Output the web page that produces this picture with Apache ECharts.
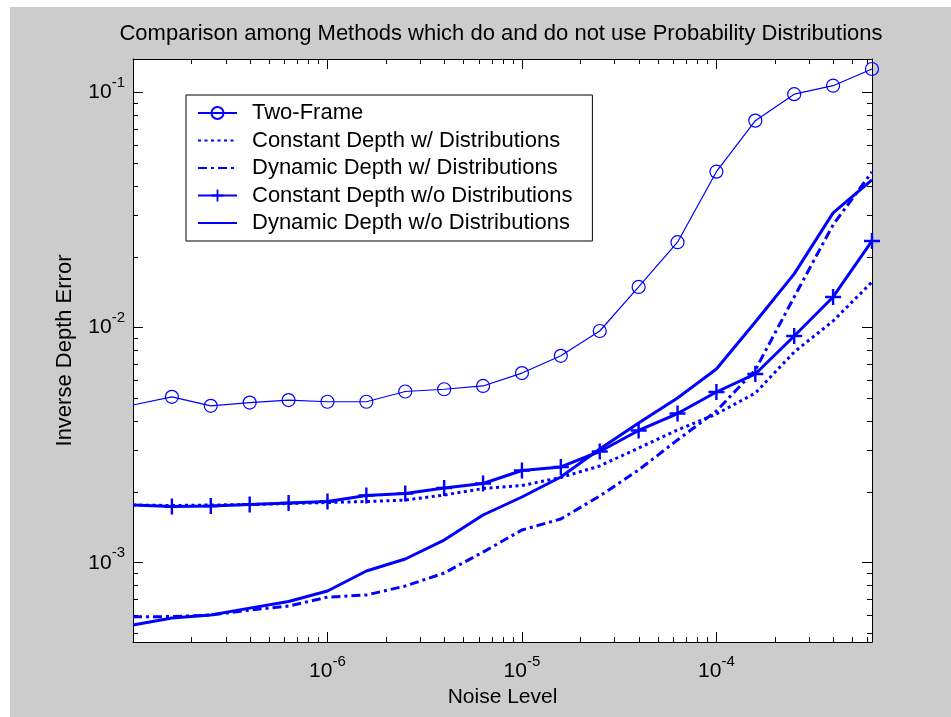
<!DOCTYPE html>
<html>
<head>
<meta charset="utf-8">
<title>Comparison among Methods</title>
<script src="https://cdn.jsdelivr.net/npm/echarts@6/dist/echarts.min.js"></script>
<style>
  html, body { margin: 0; padding: 0; background: #fff; }
  #chart { width: 951px; height: 717px; }
</style>
</head>
<body>
<div id="chart"></div>
<script>
// noise levels (0.2 decade steps)
var noiseLevel = [1e-7, 1.585e-7, 2.512e-7, 3.981e-7, 6.310e-7,
                  1e-6, 1.585e-6, 2.512e-6, 3.981e-6, 6.310e-6,
                  1e-5, 1.585e-5, 2.512e-5, 3.981e-5, 6.310e-5,
                  1e-4, 1.585e-4, 2.512e-4, 3.981e-4, 6.310e-4];

// inverse depth error per method
var twoFrame = [4.69e-3, 5.08e-3, 4.65e-3, 4.80e-3, 4.92e-3, 4.84e-3, 4.84e-3, 5.35e-3, 5.47e-3, 5.65e-3,
                6.41e-3, 7.59e-3, 9.68e-3, 1.49e-2, 2.31e-2, 4.61e-2, 7.60e-2, 9.85e-2, 1.07e-1, 1.26e-1];
var constDepthDist = [1.760e-3, 1.751e-3, 1.760e-3, 1.769e-3, 1.786e-3, 1.804e-3, 1.821e-3, 1.848e-3, 1.941e-3, 2.068e-3,
                      2.130e-3, 2.305e-3, 2.580e-3, 3.077e-3, 3.670e-3, 4.292e-3, 5.27e-3, 7.88e-3, 1.068e-2, 1.565e-2];
var dynDepthDist = [5.89e-4, 5.90e-4, 5.99e-4, 6.29e-4, 6.54e-4, 7.14e-4, 7.29e-4, 7.96e-4, 9.04e-4, 1.110e-3,
                    1.378e-3, 1.535e-3, 1.922e-3, 2.48e-3, 3.33e-3, 4.42e-3, 6.61e-3, 1.351e-2, 2.74e-2, 4.60e-2];
var constDepthNoDist = [1.760e-3, 1.734e-3, 1.743e-3, 1.769e-3, 1.795e-3, 1.821e-3, 1.932e-3, 1.970e-3, 2.079e-3, 2.173e-3,
                        2.469e-3, 2.555e-3, 2.973e-3, 3.653e-3, 4.313e-3, 5.325e-3, 6.353e-3, 9.22e-3, 1.351e-2, 2.338e-2];
var dynDepthNoDist = [5.43e-4, 5.82e-4, 5.99e-4, 6.41e-4, 6.84e-4, 7.58e-4, 9.22e-4, 1.037e-3, 1.249e-3, 1.596e-3,
                      1.904e-3, 2.316e-3, 3.047e-3, 3.93e-3, 5.02e-3, 6.67e-3, 1.057e-2, 1.693e-2, 3.08e-2, 4.25e-2];

var seriesNames = ['Two-Frame', 'Constant Depth w/ Distributions', 'Dynamic Depth w/ Distributions',
                   'Constant Depth w/o Distributions', 'Dynamic Depth w/o Distributions'];

// axis ranges and ticks
var xRange = [1e-7, 6.31e-4];
var yRange = [4.6e-4, 0.139];
var xMajorTicks = [1e-6, 1e-5, 1e-4];
var xMinorTicks = [2e-7, 3e-7, 4e-7, 5e-7, 6e-7, 7e-7, 8e-7, 9e-7,
                   2e-6, 3e-6, 4e-6, 5e-6, 6e-6, 7e-6, 8e-6, 9e-6,
                   2e-5, 3e-5, 4e-5, 5e-5, 6e-5, 7e-5, 8e-5, 9e-5,
                   2e-4, 3e-4, 4e-4, 5e-4, 6e-4];
var yMajorTicks = [1e-3, 1e-2, 1e-1];
var yMinorTicks = [5e-4, 6e-4, 7e-4, 8e-4, 9e-4,
                   2e-3, 3e-3, 4e-3, 5e-3, 6e-3, 7e-3, 8e-3, 9e-3,
                   2e-2, 3e-2, 4e-2, 5e-2, 6e-2, 7e-2, 8e-2, 9e-2];

var FONT = "'Liberation Sans', Arial, sans-serif";
var BLUE = '#0000ff';
var PLUS = 'path://M6.8,0H9.2V6.8H16V9.2H9.2V16H6.8V9.2H0V6.8H6.8Z';

function pairs(ys, hideFirst) {
  var out = [];
  for (var i = 0; i < noiseLevel.length; i++) {
    if (i === 0 && hideFirst) {
      out.push({ value: [noiseLevel[i], ys[i]], symbol: 'none' });
    } else {
      out.push([noiseLevel[i], ys[i]]);
    }
  }
  return out;
}

// "10^n" labels
function powerLabel(v) {
  var e = Math.round(Math.log(v) / Math.LN10);
  return '{b|10}{s|' + e + '}';
}
var labelRich = {
  b: { fontFamily: FONT, fontSize: 21, color: '#000' },
  s: { fontFamily: FONT, fontSize: 15, color: '#000', padding: [0, 0, 19, 0] }
};

function logAxis(range, position, ticks, len, showLine) {
  return {
    type: 'log',
    logBase: 10,
    min: range[0],
    max: range[1],
    position: position,
    axisLine: { show: showLine, onZero: false, lineStyle: { color: '#000', width: 1 } },
    axisTick: { show: true, inside: true, length: len, customValues: ticks,
                lineStyle: { color: '#000', width: 1 } },
    axisLabel: { show: false },
    splitLine: { show: false },
    minorTick: { show: false }
  };
}

var xMain = logAxis(xRange, 'bottom', xMajorTicks, 10, true);
xMain.axisLabel = { show: true, customValues: xMajorTicks, margin: 12, formatter: powerLabel, rich: labelRich };
xMain.name = 'Noise Level';
xMain.nameLocation = 'middle';
xMain.nameGap = 40;
xMain.nameTextStyle = { fontFamily: FONT, fontSize: 21, color: '#000' };

var yMain = logAxis(yRange, 'left', yMajorTicks, 10, true);
yMain.axisLabel = { show: true, customValues: yMajorTicks, margin: 8, formatter: powerLabel, rich: labelRich };
yMain.name = 'Inverse Depth Error';
yMain.nameLocation = 'middle';
yMain.nameGap = 57;
yMain.nameTextStyle = { fontFamily: FONT, fontSize: 22, color: '#000' };

// legend entries: the lines without markers get no symbol in the legend either
var noMark = { color: 'rgba(0,0,0,0)', borderWidth: 0, opacity: 0 };
var legendData = [
  { name: seriesNames[0] },
  { name: seriesNames[1], itemStyle: noMark },
  { name: seriesNames[2], itemStyle: noMark },
  { name: seriesNames[3] },
  { name: seriesNames[4], itemStyle: noMark }
];

var chart = echarts.init(document.getElementById('chart'));
var option = {
  animation: false,
  backgroundColor: '#cccccc',
  graphic: [
    { type: 'rect', silent: true, shape: { x: 0, y: 0, width: 951, height: 7 }, style: { fill: '#fff' } },
    { type: 'rect', silent: true, shape: { x: 0, y: 0, width: 10, height: 717 }, style: { fill: '#fff' } }
  ],
  title: {
    text: 'Comparison among Methods which do and do not use Probability Distributions',
    left: 501,
    top: 23,
    padding: 0,
    textAlign: 'center',
    textStyle: { fontFamily: FONT, fontSize: 22, fontWeight: 'normal', color: '#000' }
  },
  grid: {
    left: 133, top: 59, width: 739, height: 583,
    show: true, backgroundColor: '#fff', borderWidth: 0
  },
  legend: {
    orient: 'vertical',
    left: 186,
    top: 95,
    padding: [7, 20, 7, 11],
    itemWidth: 39,
    itemHeight: 15,
    itemGap: 5.5,
    backgroundColor: '#fff',
    borderColor: '#000',
    borderWidth: 1,
    borderRadius: 0,
    textStyle: { fontFamily: FONT, fontSize: 22, color: '#000', padding: [0, 0, 0, 10] },
    data: legendData
  },
  xAxis: [
    xMain,
    logAxis(xRange, 'bottom', xMinorTicks, 5, false),
    logAxis(xRange, 'top', xMajorTicks, 10, true),
    logAxis(xRange, 'top', xMinorTicks, 5, false)
  ],
  yAxis: [
    yMain,
    logAxis(yRange, 'left', yMinorTicks, 5, false),
    logAxis(yRange, 'right', yMajorTicks, 10, true),
    logAxis(yRange, 'right', yMinorTicks, 5, false)
  ],
  series: [
    {
      name: seriesNames[0], type: 'line', data: pairs(twoFrame, true),
      symbol: 'circle', symbolSize: 13,
      itemStyle: { color: 'rgba(0,0,0,0)', borderColor: BLUE, borderWidth: 1.2 },
      lineStyle: { color: BLUE, width: 1.2 },
      z: 5
    },
    {
      name: seriesNames[1], type: 'line', data: pairs(constDepthDist), showSymbol: false, symbol: 'none',
      itemStyle: { color: BLUE },
      lineStyle: { color: BLUE, width: 3, type: [3, 3.5] }
    },
    {
      name: seriesNames[2], type: 'line', data: pairs(dynDepthDist), showSymbol: false, symbol: 'none',
      itemStyle: { color: BLUE },
      lineStyle: { color: BLUE, width: 3, type: [9, 4, 3, 4] }
    },
    {
      name: seriesNames[3], type: 'line', data: pairs(constDepthNoDist, true),
      symbol: PLUS, symbolSize: 16,
      itemStyle: { color: BLUE },
      lineStyle: { color: BLUE, width: 3 }
    },
    {
      name: seriesNames[4], type: 'line', data: pairs(dynDepthNoDist), showSymbol: false, symbol: 'none',
      itemStyle: { color: BLUE },
      lineStyle: { color: BLUE, width: 3 }
    }
  ]
};
chart.setOption(option);
</script>
</body>
</html>
